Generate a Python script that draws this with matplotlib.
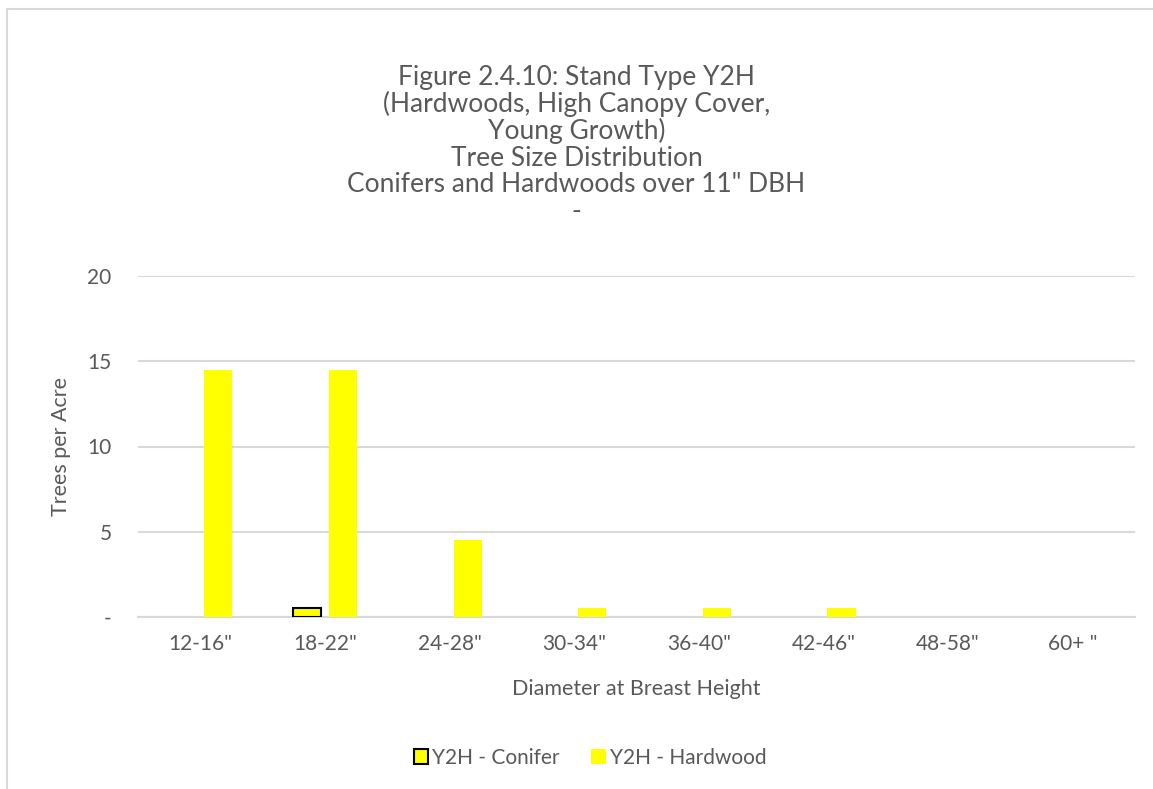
import matplotlib.pyplot as plt
from matplotlib.patches import Rectangle
import numpy as np

plt.rcParams['font.family'] = ['Lato', 'DejaVu Sans']

categories = ['12-16"', '18-22"', '24-28"', '30-34"', '36-40"', '42-46"', '48-58"', '60+ "']
conifer = [0, 0.5, 0, 0, 0, 0, 0, 0]
hardwood = [14.5, 14.5, 4.5, 0.5, 0.5, 0.5, 0, 0]
y_ticks = [0, 5, 10, 15, 20]
y_tick_labels = ['-', '5', '10', '15', '20']

title_lines = [
    'Figure 2.4.10: Stand Type Y2H',
    '(Hardwoods, High Canopy Cover,',
    'Young Growth)',
    'Tree Size Distribution',
    'Conifers and Hardwoods over 11" DBH',
    '-',
]

gray = '#595959'
grid = '#d9d9d9'

fig = plt.figure(figsize=(11.53, 7.89), dpi=100)
ax = fig.add_axes([138 / 1153, 1 - 617 / 789, (1135 - 138) / 1153, (617 - 276) / 789])

x = np.arange(len(categories))
w = 0.225
off = 0.145

# zero-valued bars get no outline, like the original
con_lw = [1.5 if v > 0 else 0 for v in conifer]
ax.bar(x - off, conifer, width=w, color='#ffff00', edgecolor='black', linewidth=con_lw, label='Y2H - Conifer', zorder=3)
ax.bar(x + off, hardwood, width=w, color='#ffff00', linewidth=0, label='Y2H - Hardwood', zorder=3)

ax.set_xlim(-0.5, len(categories) - 0.5)
ax.set_ylim(0, 20)
ax.set_yticks(y_ticks)
ax.set_yticklabels(y_tick_labels)
ax.set_xticks(x)
ax.set_xticklabels(categories)
ax.yaxis.grid(True, color=grid, linewidth=1.5, zorder=0)
ax.set_axisbelow(True)
for s in ['top', 'right', 'left']:
    ax.spines[s].set_visible(False)
ax.spines['bottom'].set_color(grid)
ax.spines['bottom'].set_linewidth(1.5)
ax.tick_params(axis='both', length=0, labelsize=15, colors=gray)
ax.tick_params(axis='y', pad=19)
ax.tick_params(axis='x', pad=12)

ax.set_xlabel('Diameter at Breast Height', fontsize=15.5, color=gray, labelpad=18)
ax.set_ylabel('Trees per Acre', fontsize=15.5, color=gray, labelpad=12)

for i, line in enumerate(title_lines):
    fig.text(0.5, 1 - (77 + 27 * i) / 789, line, ha='center', va='center', fontsize=19, color=gray)

leg = fig.legend(loc='center', bbox_to_anchor=(590 / 1153, 1 - 758 / 789), ncol=2, frameon=False,
                 fontsize=15, handlelength=0.7, handleheight=0.7, handletextpad=0.2, columnspacing=1.5)
for t in leg.get_texts():
    t.set_color(gray)
leg.legend_handles[0].set_linewidth(1.5)
leg.legend_handles[0].set_edgecolor('black')

fig.patches.append(Rectangle((7 / 1153, -0.1), 1.2, 1.1 - 9 / 789, transform=fig.transFigure,
                             fill=False, edgecolor=grid, linewidth=1.5))

fig.savefig('out.png', dpi=100)
